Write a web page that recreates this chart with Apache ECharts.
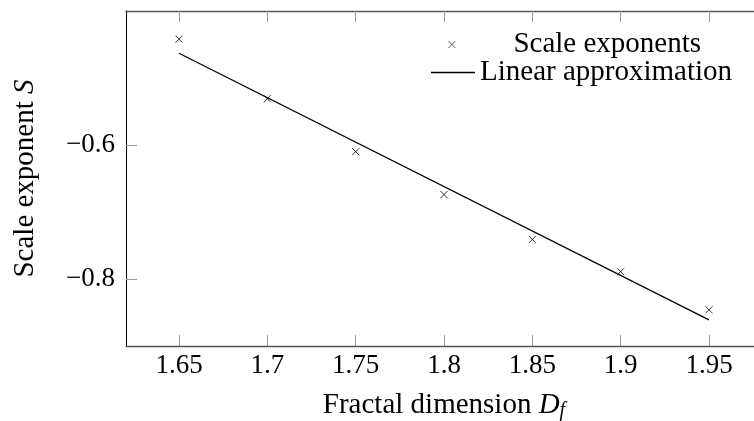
<!DOCTYPE html>
<html>
<head>
<meta charset="utf-8">
<script src="https://cdn.jsdelivr.net/npm/echarts@6/dist/echarts.min.js"></script>
<style>
    html, body { margin: 0; padding: 0; background: #fff; }
    #chart { width: 754px; height: 421px; }
</style>
</head>
<body>
<div id="chart"></div>
<script>
// measured scale exponents
var dimensions = [1.65, 1.7, 1.75, 1.8, 1.85, 1.9, 1.95];
var exponents = [-0.442, -0.531, -0.610, -0.674, -0.741, -0.789, -0.846];

// linear fit, end points
var fitX = [1.65, 1.95];
var fitY = [-0.463, -0.861];

var xTicks = [1.65, 1.7, 1.75, 1.8, 1.85, 1.9, 1.95];
var yTicks = [-0.8, -0.6];

var font = 'Liberation Serif';
var tickSize = 27;
var textSize = 29;

function pairs(xs, ys) {
    var out = [];
    for (var i = 0; i < xs.length; i++) {
        out.push([xs[i], ys[i]]);
    }
    return out;
}

var chart = echarts.init(document.getElementById('chart'));

var tickStyle = {
    show: true,
    inside: true,
    length: 11,
    lineStyle: { color: '#999', width: 1 }
};

chart.setOption({
    animation: false,
    textStyle: { fontFamily: font },
    // plot box runs past the right edge of the picture
    grid: { left: 126, top: 11, width: 636, height: 335, outerBoundsMode: 'none' },
    legend: [
        {
            data: ['Scale exponents'],
            left: 448, top: 30,
            padding: 0,
            itemWidth: 7, itemHeight: 7,
            itemStyle: { color: 'rgba(0,0,0,0)', borderColor: '#000', borderWidth: 0.8 },
            textStyle: {
                fontFamily: font, fontSize: textSize, color: '#000',
                padding: [0, 0, 0, 53]
            }
        },
        {
            data: [{ name: 'Linear approximation', icon: 'rect' }],
            left: 431, top: 58,
            padding: 0,
            itemWidth: 44, itemHeight: 1.3,
            textStyle: { fontFamily: font, fontSize: textSize, color: '#000' }
        }
    ],
    xAxis: [
        {
            type: 'value',
            min: 1.62, max: 1.98,
            name: '{n|Fractal dimension }{i|D}{s|f}',
            nameLocation: 'middle',
            nameGap: 43,
            nameTextStyle: {
                rich: {
                    n: { fontFamily: font, fontSize: textSize, color: '#000' },
                    i: { fontFamily: font, fontSize: textSize, fontStyle: 'italic', color: '#000' },
                    s: { fontFamily: font, fontSize: 20, fontStyle: 'italic', color: '#000',
                         verticalAlign: 'bottom', padding: [12, 0, 0, 0] }
                }
            },
            axisLine: { show: true, lineStyle: { color: '#555', width: 1.3 } },
            axisTick: Object.assign({ customValues: xTicks }, tickStyle),
            axisLabel: {
                customValues: xTicks,
                margin: 6,
                fontFamily: font, fontSize: tickSize, color: '#000',
                formatter: function (v) { return String(v); }
            },
            splitLine: { show: false }
        },
        {
            type: 'value',
            position: 'top',
            min: 1.62, max: 1.98,
            axisLine: { show: true, lineStyle: { color: '#555', width: 1.3 } },
            axisTick: Object.assign({ customValues: xTicks }, tickStyle),
            axisLabel: { show: false },
            splitLine: { show: false }
        }
    ],
    yAxis: {
        type: 'value',
        min: -0.9, max: -0.4,
        interval: 0.1,
        name: '{n|Scale exponent }{i|S}',
        nameLocation: 'middle',
        nameGap: 86,
        nameTextStyle: {
            rich: {
                n: { fontFamily: font, fontSize: textSize, color: '#000' },
                i: { fontFamily: font, fontSize: textSize, fontStyle: 'italic', color: '#000' }
            }
        },
        axisLine: { show: true, lineStyle: { color: '#000', width: 1 } },
        axisTick: Object.assign({ customValues: yTicks }, tickStyle),
        axisLabel: {
            customValues: yTicks,
            margin: 11,
            fontFamily: font, fontSize: tickSize, color: '#000',
            formatter: function (v) {
                return (v < 0 ? '\u2212' : '') + Math.abs(v);
            }
        },
        splitLine: { show: false }
    },
    series: [
        {
            name: 'Scale exponents',
            type: 'scatter',
            data: pairs(dimensions, exponents),
            symbol: 'path://M0,0L10,10M10,0L0,10',
            symbolSize: 7,
            itemStyle: { color: 'rgba(0,0,0,0)', borderColor: '#000', borderWidth: 1 },
            z: 3
        },
        {
            name: 'Linear approximation',
            type: 'line',
            data: pairs(fitX, fitY),
            symbol: 'none',
            lineStyle: { color: '#000', width: 1.3 },
            itemStyle: { color: '#000' }
        }
    ]
});
</script>
</body>
</html>
